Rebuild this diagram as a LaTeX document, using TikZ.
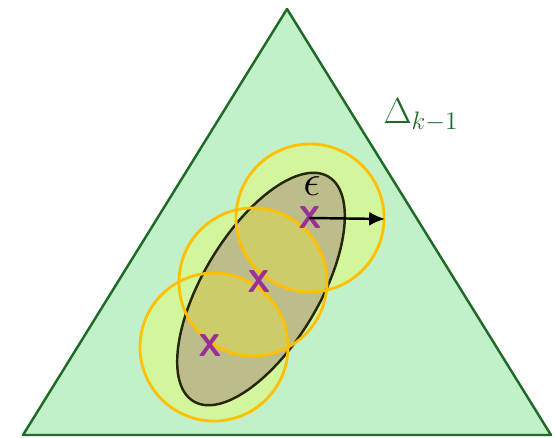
\documentclass[tikz,border=0pt]{standalone}
\usepackage{fontspec}
\usetikzlibrary{calc,arrows.meta}

\definecolor{simplexfill}{HTML}{C2F0C8}
\definecolor{simplexline}{HTML}{1E6B28}
\definecolor{ballline}{HTML}{FFC000}
\definecolor{ballfill}{HTML}{D3F59C}
\definecolor{setfill}{HTML}{BDBD8C}
\definecolor{lensfill}{HTML}{CCCC6A}
\definecolor{setline}{HTML}{262608}
\definecolor{ptcolor}{HTML}{9B2F96}

\tikzset{
    ball/.style={draw=ballline, line width=1.6pt},
    setshape/.style={rotate around={59:(E)}},
    ptmark/.style={text=ptcolor, font=\sffamily\bfseries\fontsize{18}{18}\selectfont, inner sep=0pt}
}

\begin{document}
\begin{tikzpicture}[x=0.02cm, y=0.02cm, >={Latex[length=9pt,width=8pt]}, line join=round, line cap=round]
    \useasboundingbox (0,0) rectangle (555,437);

    % 单纯形 Delta_{k-1} 的三个顶点
    \coordinate (V1) at (23,2);
    \coordinate (V2) at (551,2);
    \coordinate (V3) at (287,428);
    \draw[simplexline, line width=1.4pt, fill=simplexfill] (V1) -- (V2) -- (V3) -- cycle;
    \node[simplexline, font=\fontsize{22}{26}\selectfont] (lab) at (421,322) {$\Delta_{k-1}$};

    % 三个点的 epsilon 邻域 (先填充)
    \coordinate (C1) at (310,219);
    \coordinate (C2) at (253,155);
    \coordinate (C3) at (214,90);
    \foreach \c in {C3,C2,C1}
        \fill[ballfill] (\c) circle (74);

    % 集合 (倾斜的椭圆)
    \coordinate (E) at (261,148);
    \fill[setfill, setshape] (E) ellipse (131 and 58);
    % 椭圆内两个邻域的重叠部分
    \begin{scope}
        \clip[setshape] (E) ellipse (131 and 58);
        \begin{scope}
            \clip (C2) circle (74);
            \fill[lensfill] (C1) circle (74);
            \fill[lensfill] (C3) circle (74);
        \end{scope}
    \end{scope}
    \draw[setline, line width=1.4pt, setshape] (E) ellipse (131 and 58);

    % 邻域的边界
    \foreach \c in {C3,C2,C1}
        \draw[ball] (\c) circle (74);

    % 点的标记
    \node[ptmark] (x1) at (C1) {X};
    \node[ptmark] (x2) at (259,155) {X};
    \node[ptmark] (x3) at (210,91) {X};

    % 半径 epsilon
    \coordinate (R) at (385,218);
    \draw[->, line width=1.4pt] (x1.center) -- (R);
    \node[font=\fontsize{24}{28}\selectfont, inner sep=0pt] (eps) at (312,251) {$\epsilon$};
\end{tikzpicture}
\end{document}
